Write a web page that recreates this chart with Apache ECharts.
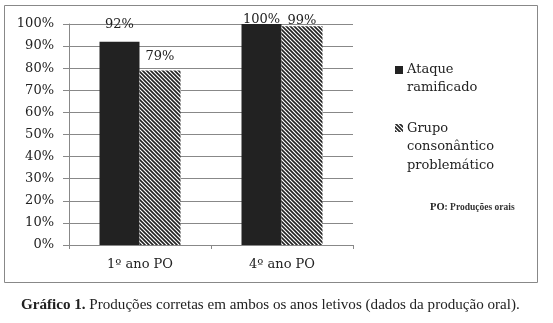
<!DOCTYPE html>
<html><head><meta charset="utf-8">
<script src="https://cdn.jsdelivr.net/npm/echarts@6/dist/echarts.min.js"></script>
<style>html,body{margin:0;padding:0;background:#fff}#c{width:553px;height:323px}</style>
</head><body><div id="c"></div>
<script>
const categories = ['1º ano PO', '4º ano PO'];
const seriesNames = ['Ataque\nramificado', 'Grupo\nconsonântico\nproblemático'];
const ataque = [92, 100];
const grupo = [79, 99];
const yTicks = [0, 10, 20, 30, 40, 50, 60, 70, 80, 90, 100];
// label offsets above bars as placed in the original figure
const ataqueLabelGap = [11, -2];
const grupoLabelGap = [7, -1];

function hatch() {
  const c = document.createElement('canvas');
  c.width = 4; c.height = 4;
  const g = c.getContext('2d');
  g.fillStyle = '#fff'; g.fillRect(0, 0, 4, 4);
  g.strokeStyle = '#222'; g.lineWidth = 1.6;
  g.beginPath();
  g.moveTo(-1, -1); g.lineTo(5, 5);
  g.moveTo(-1, 3); g.lineTo(1, 5);
  g.moveTo(3, -1); g.lineTo(5, 1);
  g.stroke();
  return c;
}
const pat = { image: hatch(), repeat: 'repeat' };
const FONT = 'DejaVu Serif';
const lbl = { show: true, position: 'top', formatter: '{c}%', color: '#222', fontFamily: FONT, fontSize: 13 };

const chart = echarts.init(document.getElementById('c'), null, { renderer: 'canvas' });
chart.setOption({
  animation: false,
  grid: { left: 69, right: 200, top: 24, bottom: 78 },
  xAxis: {
    type: 'category', data: categories,
    axisLine: { lineStyle: { color: '#888' } },
    axisTick: { show: true, length: 4, lineStyle: { color: '#888' } },
    axisLabel: { color: '#222', fontFamily: FONT, fontSize: 13, margin: 13 }
  },
  yAxis: {
    type: 'value', min: 0, max: 100, interval: 10,
    axisLine: { show: true, lineStyle: { color: '#888' } },
    axisTick: { show: true, length: 6, lineStyle: { color: '#888' } },
    splitLine: { lineStyle: { color: '#888' } },
    axisLabel: { color: '#222', fontFamily: FONT, fontSize: 13, margin: 15, formatter: v => yTicks.includes(v) ? v + '%' : '' }
  },
  series: [
    { name: seriesNames[0], type: 'bar', barWidth: 40, barGap: '0%',
      data: ataque.map((v, i) => ({ value: v, label: { distance: ataqueLabelGap[i] } })),
      itemStyle: { color: '#222' }, label: lbl },
    { name: seriesNames[1], type: 'bar', barWidth: 41, barGap: '0%',
      data: grupo.map((v, i) => ({ value: v, label: { distance: grupoLabelGap[i] } })),
      itemStyle: { color: pat }, label: lbl }
  ],
  graphic: [
    { type: 'rect', shape: { x: 4.5, y: 5.5, width: 533, height: 277 }, style: { fill: 'none', stroke: '#888', lineWidth: 1 }, silent: true },
    { type: 'rect', shape: { x: 395, y: 66, width: 8, height: 8 }, style: { fill: '#222' } },
    { type: 'text', x: 407, y: 61, style: { text: seriesNames[0], font: '13px "DejaVu Serif"', fill: '#222', lineHeight: 18 } },
    { type: 'rect', shape: { x: 395, y: 124, width: 8, height: 8 }, style: { fill: pat } },
    { type: 'text', x: 407, y: 119, style: { text: seriesNames[1], font: '13px "DejaVu Serif"', fill: '#222', lineHeight: 18.5 } },
    { type: 'text', x: 430, y: 202, style: { text: '{b|PO}{n|: Produções orais}', rich: { b: { fontFamily: 'Liberation Serif', fontWeight: 'bold', fontSize: 10.5, fill: '#222' }, n: { fontFamily: 'Liberation Serif', fontWeight: 'bold', fontSize: 9.5, fill: '#333' } } } },
    { type: 'text', x: 21, y: 298, style: { text: '{b|Gráfico 1.}{n| Produções corretas em ambos os anos letivos (dados da produção oral).}', rich: { b: { fontFamily: 'Liberation Serif', fontWeight: 'bold', fontSize: 15.1, fill: '#222' }, n: { fontFamily: 'Liberation Serif', fontSize: 15.1, fill: '#222' } } } }
  ]
});
</script></body></html>
